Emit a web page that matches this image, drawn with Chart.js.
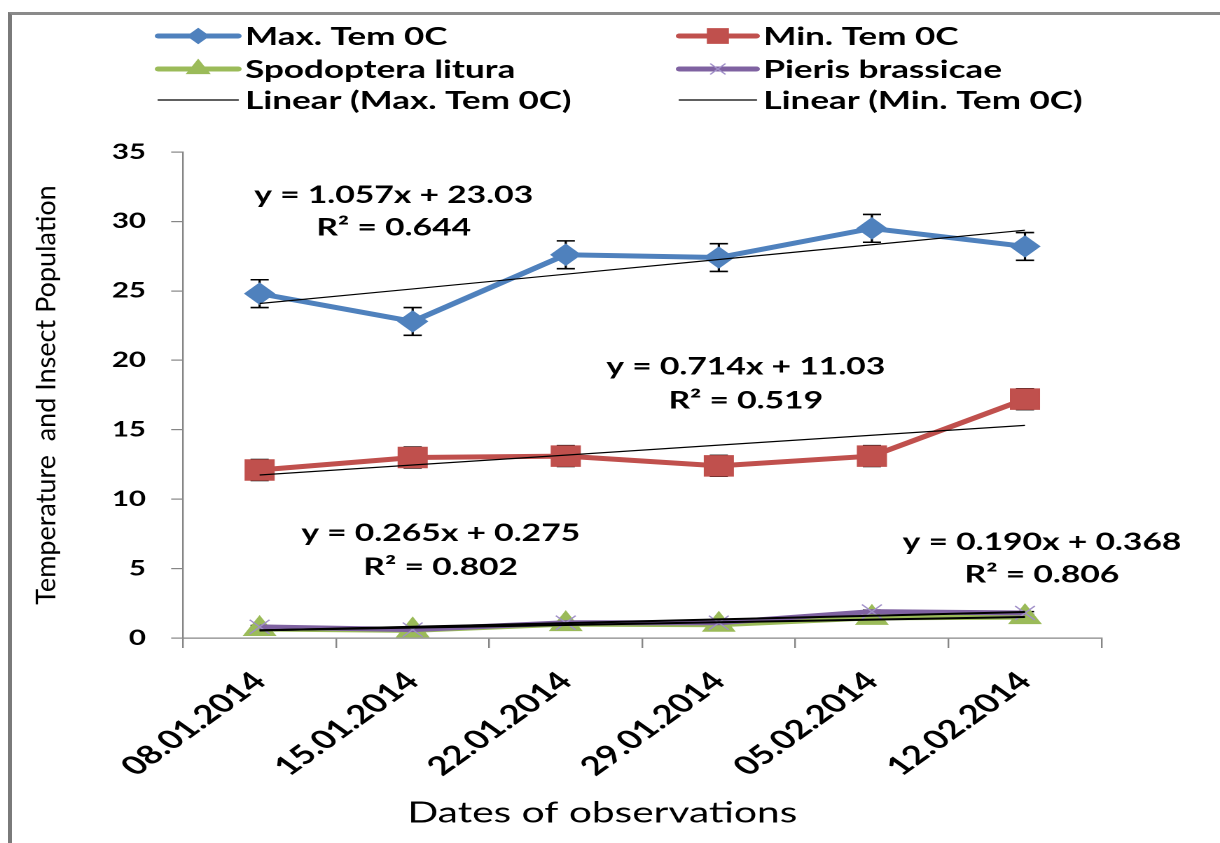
<!DOCTYPE html>
<html>
<head>
<meta charset="utf-8">
<title>Temperature and insect population</title>
<script src="https://cdn.jsdelivr.net/npm/chart.js@4.4.1/dist/chart.umd.min.js"></script>
<style>
  html, body { margin: 0; padding: 0; background: #fff; overflow: hidden; }
  #wrap { position: relative; width: 1220px; height: 843px; }
  /* the original picture is an Excel chart stretched sideways, so the canvas is too */
  #chart { position: absolute; left: 0; top: 0; transform: scaleX(1.4007); transform-origin: 0 0; }
  #frame { position: absolute; left: 8px; top: 12px; width: 1300px; height: 900px;
           border-left: 4px solid #7a7a7a; border-top: 3px solid #8a8a8a; }
</style>
</head>
<body>
<div id="wrap">
  <canvas id="chart" width="871" height="843"></canvas>
  <div id="frame"></div>
</div>
<script>
const dates = ['08.01.2014', '15.01.2014', '22.01.2014', '29.01.2014', '05.02.2014', '12.02.2014'];
const maxTemp = [24.8, 22.8, 27.6, 27.4, 29.5, 28.2];
const minTemp = [12.1, 13.0, 13.1, 12.4, 13.1, 17.2];
const spodoptera = [0.65, 0.55, 1.0, 0.95, 1.45, 1.5];
const pieris = [0.8, 0.6, 1.1, 1.1, 1.9, 1.8];

// error bars
const maxTempErr = [1.0, 1.0, 1.0, 1.0, 1.0, 1.0];
const minTempErr = [0.75, 0.75, 0.75, 0.75, 0.75, 0.75];
const spodopteraErr = [0.1, 0.1, 0.1, 0.1, 0.1, 0.1];
const pierisErr = [0.1, 0.1, 0.1, 0.1, 0.1, 0.1];

// linear trendlines
const trendMax = [24.09, 25.14, 26.2, 27.26, 28.32, 29.37];
const trendMin = [11.74, 12.46, 13.17, 13.89, 14.6, 15.31];
const trendSpodoptera = [0.56, 0.75, 0.94, 1.13, 1.32, 1.51];
const trendPieris = [0.54, 0.81, 1.07, 1.34, 1.6, 1.87];

const yTicks = [0, 5, 10, 15, 20, 25, 30, 35];

const equations = [
    ['y = 1.057x + 23.03', 'R\u00B2 = 0.644'],
    ['y = 0.714x + 11.03', 'R\u00B2 = 0.519'],
    ['y = 0.265x + 0.275', 'R\u00B2 = 0.802'],
    ['y = 0.190x + 0.368', 'R\u00B2 = 0.806']
];

const xTitle = 'Dates of observations';
const yTitle = 'Temperature  and Insect Population';

const FONT = 'Lato, "Open Sans", sans-serif';
const BLUE = '#4f81bd', RED = '#c0504d', GREEN = '#9bbb59', PURPLE = '#7f62a1';

function trendSet(label, data, width) {
    return {
        label: label, data: data, borderColor: '#000', borderWidth: width,
        pointRadius: 0, tension: 0, clip: false
    };
}

// error bars sit under the markers
const errorBars = {
    id: 'errorBars',
    beforeDatasetsDraw(chart, args, opts) {
        const ctx = chart.ctx;
        const y = chart.scales.y;
        ctx.save();
        ctx.strokeStyle = '#000';
        ctx.lineWidth = 1.6;
        opts.sets.forEach(s => {
            const idx = chart.data.datasets.findIndex(d => d.label === s.label);
            const meta = chart.getDatasetMeta(idx);
            const values = chart.data.datasets[idx].data;
            meta.data.forEach((pt, i) => {
                const top = y.getPixelForValue(values[i] + s.err[i]);
                const bot = y.getPixelForValue(values[i] - s.err[i]);
                ctx.beginPath();
                ctx.moveTo(pt.x, top); ctx.lineTo(pt.x, bot);
                ctx.moveTo(pt.x - 6.5, top); ctx.lineTo(pt.x + 6.5, top);
                ctx.moveTo(pt.x - 6.5, bot); ctx.lineTo(pt.x + 6.5, bot);
                ctx.stroke();
            });
        });
        ctx.restore();
    }
};

const trendLabels = {
    id: 'trendLabels',
    afterDatasetsDraw(chart, args, opts) {
        const ctx = chart.ctx;
        const x = chart.scales.x, y = chart.scales.y;
        ctx.save();
        ctx.fillStyle = '#000';
        ctx.font = 'bold 24px ' + FONT;
        ctx.textAlign = 'center';
        ctx.textBaseline = 'middle';
        opts.places.forEach((p, k) => {
            const px = x.getPixelForValue(p.at);
            equations[k].forEach((line, j) => {
                ctx.fillText(line, px, y.getPixelForValue(p.rows[j]));
            });
        });
        ctx.restore();
    }
};

const sideLegend = {
    id: 'sideLegend',
    afterDraw(chart, args, opts) {
        const ctx = chart.ctx;
        ctx.save();
        opts.items.forEach(item => {
            const ds = chart.data.datasets.find(d => d.label === item.label);
            const col = opts.columns[item.col];
            const yy = opts.rows[item.row];
            ctx.strokeStyle = ds.borderColor;
            ctx.lineWidth = ds.borderWidth;
            ctx.lineCap = 'round';
            ctx.beginPath();
            ctx.moveTo(col.from, yy);
            ctx.lineTo(col.to, yy);
            ctx.stroke();
            if (ds.pointRadius) {
                ctx.fillStyle = ds.pointBackgroundColor;
                ctx.strokeStyle = ds.pointBorderColor;
                ctx.lineWidth = ds.pointBorderWidth;
                Chart.helpers.drawPoint(ctx, {
                    pointStyle: ds.pointStyle, rotation: 0,
                    radius: ds.pointRadius * 0.72, borderWidth: ds.pointBorderWidth
                }, (col.from + col.to) / 2, yy);
            }
            ctx.fillStyle = '#000';
            ctx.font = 'bold 25px ' + FONT;
            ctx.textAlign = 'left';
            ctx.textBaseline = 'middle';
            ctx.fillText(ds.label, col.text, yy + 1);
        });
        ctx.restore();
    }
};

const axisTitles = {
    id: 'axisTitles',
    afterDraw(chart, args, opts) {
        const ctx = chart.ctx;
        const area = chart.chartArea;
        ctx.save();
        ctx.fillStyle = '#000';
        ctx.textAlign = 'center';
        ctx.textBaseline = 'middle';
        ctx.font = '29px ' + FONT;
        ctx.fillText(xTitle, opts.xTitleX, opts.xTitleY);
        // the vertical title is not stretched in the picture
        ctx.translate(opts.yTitleX, (area.top + area.bottom) / 2);
        ctx.scale(opts.yTitleSqueeze, 1);
        ctx.rotate(-Math.PI / 2);
        ctx.font = '27px ' + FONT;
        ctx.fillText(yTitle, 0, 0);
        ctx.restore();
    }
};

new Chart(document.getElementById('chart'), {
    type: 'line',
    data: {
        labels: dates,
        datasets: [
            trendSet('Linear (Max. Tem 0C)', trendMax, 1.2),
            trendSet('Linear (Min. Tem 0C)', trendMin, 1.2),
            trendSet('Linear (Spodoptera litura)', trendSpodoptera, 2),
            trendSet('Linear (Pieris brassicae)', trendPieris, 2),
            {
                label: 'Pieris brassicae', data: pieris, borderColor: PURPLE, borderWidth: 5,
                pointStyle: 'crossRot', pointRadius: 10, pointBorderWidth: 1.2,
                pointBorderColor: '#a08fc8', pointBackgroundColor: '#a08fc8', tension: 0, clip: false
            },
            {
                label: 'Spodoptera litura', data: spodoptera, borderColor: GREEN, borderWidth: 5,
                pointStyle: 'triangle', pointRadius: 13, pointBorderWidth: 1,
                pointBorderColor: GREEN, pointBackgroundColor: GREEN, tension: 0, clip: false
            },
            {
                label: 'Min. Tem 0C', data: minTemp, borderColor: RED, borderWidth: 5,
                pointStyle: 'rect', pointRadius: 14.5, pointBorderWidth: 1,
                pointBorderColor: RED, pointBackgroundColor: RED, tension: 0, clip: false
            },
            {
                label: 'Max. Tem 0C', data: maxTemp, borderColor: BLUE, borderWidth: 5,
                pointStyle: 'rectRot', pointRadius: 10.5, pointBorderWidth: 1,
                pointBorderColor: BLUE, pointBackgroundColor: BLUE, tension: 0, clip: false
            }
        ]
    },
    options: {
        responsive: false,
        devicePixelRatio: 2,
        animation: false,
        events: [],
        layout: { padding: { top: 152, right: 84.6, left: 0, bottom: 0 } },
        plugins: {
            legend: { display: false },
            tooltip: { enabled: false },
            errorBars: {
                sets: [
                    { label: 'Max. Tem 0C', err: maxTempErr },
                    { label: 'Min. Tem 0C', err: minTempErr },
                    { label: 'Spodoptera litura', err: spodopteraErr },
                    { label: 'Pieris brassicae', err: pierisErr }
                ]
            },
            trendLabels: {
                places: [
                    { at: 0.876, rows: [31.9, 29.53] },
                    { at: 3.176, rows: [19.52, 17.07] },
                    { at: 1.183, rows: [7.56, 5.11] },
                    { at: 5.111, rows: [6.91, 4.54] }
                ]
            },
            sideLegend: {
                columns: [
                    { from: 113, to: 170, text: 175 },
                    { from: 485, to: 540, text: 545 }
                ],
                rows: [36, 69, 100],
                items: [
                    { label: 'Max. Tem 0C', col: 0, row: 0 },
                    { label: 'Min. Tem 0C', col: 1, row: 0 },
                    { label: 'Spodoptera litura', col: 0, row: 1 },
                    { label: 'Pieris brassicae', col: 1, row: 1 },
                    { label: 'Linear (Max. Tem 0C)', col: 0, row: 2 },
                    { label: 'Linear (Min. Tem 0C)', col: 1, row: 2 }
                ]
            },
            axisTitles: { xTitleX: 430, xTitleY: 813, yTitleX: 33.6, yTitleSqueeze: 0.7 }
        },
        scales: {
            x: {
                offset: true,
                afterFit: scale => { scale.height = 205; },
                border: { color: '#868686', width: 1.2 },
                grid: { offset: true, drawOnChartArea: false, color: '#868686', tickLength: 10, lineWidth: 1.2 },
                ticks: {
                    autoSkip: false, minRotation: 45, maxRotation: 45, padding: 18, color: '#000',
                    font: { family: FONT, size: 26, weight: 'bold' }
                }
            },
            y: {
                min: 0,
                max: 35,
                afterFit: scale => { scale.width = 130.7; },
                afterBuildTicks: scale => { scale.ticks = yTicks.map(v => ({ value: v })); },
                border: { color: '#868686', width: 1.2 },
                grid: { drawOnChartArea: false, color: '#868686', tickLength: 8.5, lineWidth: 1.2 },
                ticks: {
                    padding: 18, color: '#000',
                    font: { family: FONT, size: 21, weight: 'bold' }
                }
            }
        }
    },
    plugins: [errorBars, trendLabels, sideLegend, axisTitles]
});
</script>
</body>
</html>
